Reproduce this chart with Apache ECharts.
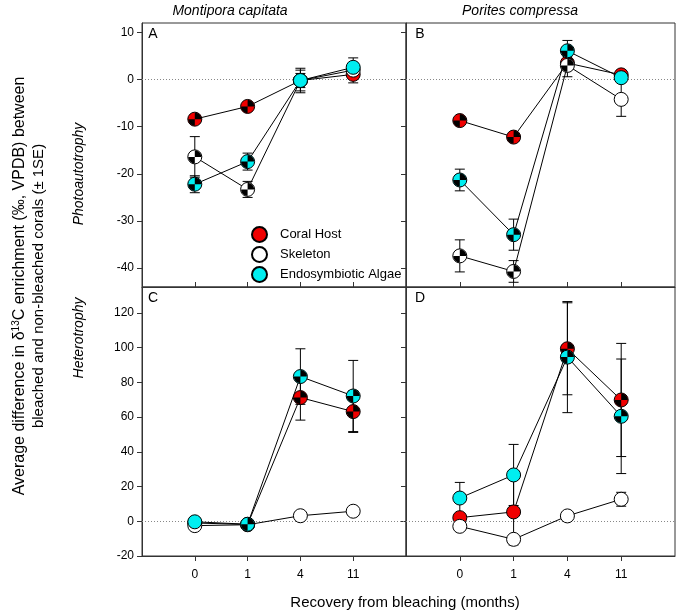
<!DOCTYPE html>
<html>
<head>
<meta charset="utf-8">
<script src="https://cdn.jsdelivr.net/npm/echarts@6/dist/echarts.min.js"></script>
<style>
  html, body { margin: 0; padding: 0; background: #fff; }
  #chart { width: 683px; height: 613px; }
</style>
</head>
<body>
<div id="chart"></div>
<script>
// recovery time points (months), plotted at evenly spaced positions
const months = ['0', '1', '4', '11'];
const topTicks = [-40, -30, -20, -10, 0, 10];
const bottomTicks = [-20, 0, 20, 40, 60, 80, 100, 120];

// A - Montipora capitata, photoautotrophy
const aHost = [-8.4, -5.7, -0.2, 1.1];
const aHostErr = [0.6, 0.5, 1.5, 1.8];
const aSkel = [-16.4, -23.3, -0.2, 2.0];
const aSkelErr = [4.3, 1.7, 2.6, 1.5];
const aAlg = [-22.2, -17.4, -0.2, 2.6];
const aAlgErr = [1.8, 1.8, 2.2, 2.0];

// B - Porites compressa, photoautotrophy
const bHost = [-8.7, -12.2, 3.5, 1.0];
const bHostErr = [0.5, 0.5, 1.5, 1.0];
const bSkel = [-37.4, -40.7, 3.0, -4.2];
const bSkelErr = [3.4, 2.3, 2.4, 3.6];
const bAlg = [-21.3, -32.9, 6.1, 0.4];
const bAlgErr = [2.3, 3.3, 2.2, 1.0];

// C - Montipora capitata, heterotrophy
const cHost = [-1.0, -1.8, 71.3, 63.2];
const cHostErr = [1.0, 0.8, 13.0, 12.0];
const cSkel = [-2.5, -2.0, 3.2, 5.8];
const cSkelErr = [0.8, 0.8, 1.0, 1.0];
const cAlg = [-0.3, -1.7, 83.4, 72.2];
const cAlgErr = [1.0, 0.8, 16.0, 20.5];

// D - Porites compressa, heterotrophy
const dHost = [2.1, 5.4, 99.4, 69.9];
const dHostErr = [2.0, 19.0, 26.5, 32.6];
const dSkel = [-2.9, -10.4, 3.1, 12.7];
const dSkelErr = [1.0, 2.5, 1.0, 4.0];
const dAlg = [13.4, 26.7, 94.6, 60.5];
const dAlgErr = [9.0, 17.6, 32.0, 33.0];

// quartered (black / colour) symbols, 1 = quartered
const aMark = [1, 1, 0, 0];
const bMark = [1, 1, 1, 0];
const cMark = [0, 1, 1, 1];
const dMark = [0, 0, 1, 1];
const noMark = [0, 0, 0, 0];

const FONT = 'Liberation Sans, Arial, sans-serif';
const AXIS = '#333';

const panels = [
  { host: aHost, hostErr: aHostErr, skel: aSkel, skelErr: aSkelErr, alg: aAlg, algErr: aAlgErr,
    hostMark: aMark, skelMark: aMark, algMark: aMark },
  { host: bHost, hostErr: bHostErr, skel: bSkel, skelErr: bSkelErr, alg: bAlg, algErr: bAlgErr,
    hostMark: bMark, skelMark: bMark, algMark: bMark },
  { host: cHost, hostErr: cHostErr, skel: cSkel, skelErr: cSkelErr, alg: cAlg, algErr: cAlgErr,
    hostMark: cMark, skelMark: noMark, algMark: cMark },
  { host: dHost, hostErr: dHostErr, skel: dSkel, skelErr: dSkelErr, alg: dAlg, algErr: dAlgErr,
    hostMark: dMark, skelMark: noMark, algMark: dMark }
];

const groups = [
  { key: 'host', name: 'Coral Host', color: '#f00000' },
  { key: 'skel', name: 'Skeleton', color: '#ffffff' },
  { key: 'alg', name: 'Endosymbiotic Algae', color: '#00eef0' }
];

// two black quarter wedges (top-right and bottom-left)
function wedge(a0, a1) {
  let d = 'M50 50';
  for (let i = 0; i <= 12; i++) {
    const a = a0 + (a1 - a0) * i / 12;
    d += ' L' + (50 + 50 * Math.cos(a)).toFixed(2) + ' ' + (50 + 50 * Math.sin(a)).toFixed(2);
  }
  return d + ' Z';
}
const quarterPath = 'path://' + wedge(-Math.PI / 2, 0) + ' ' + wedge(Math.PI / 2, Math.PI);

function renderErr(params, api) {
  const x = api.value(0);
  const lo = api.coord([x, api.value(1)]);
  const hi = api.coord([x, api.value(2)]);
  const w = 5;
  const style = { stroke: '#000', lineWidth: 1 };
  return {
    type: 'group',
    children: [
      { type: 'line', shape: { x1: lo[0], y1: lo[1], x2: hi[0], y2: hi[1] }, style: style },
      { type: 'line', shape: { x1: lo[0] - w, y1: lo[1], x2: lo[0] + w, y2: lo[1] }, style: style },
      { type: 'line', shape: { x1: hi[0] - w, y1: hi[1], x2: hi[0] + w, y2: hi[1] }, style: style }
    ]
  };
}

const grids = [
  { left: 142, top: 23, width: 264, height: 264 },
  { left: 406, top: 23, width: 269, height: 264 },
  { left: 142, top: 287, width: 264, height: 269 },
  { left: 406, top: 287, width: 269, height: 269 }
].map(g => Object.assign(g, { show: true, borderColor: AXIS, borderWidth: 1, containLabel: false }));

const xAxes = grids.map((g, i) => ({
  type: 'value', gridIndex: i, min: -1, max: 4,
  axisLine: { show: true, onZero: false, lineStyle: { color: AXIS } },
  axisTick: { show: true, inside: i < 2, length: 5, customValues: [0, 1, 2, 3], lineStyle: { color: AXIS } },
  axisLabel: {
    show: i >= 2, customValues: [0, 1, 2, 3], margin: 13,
    formatter: v => months[v], color: '#000', fontSize: 12, fontFamily: FONT
  },
  splitLine: { show: false }
}));

const yAxes = grids.map((g, i) => {
  const top = i < 2;
  const ticks = top ? topTicks : bottomTicks;
  return {
    type: 'value', gridIndex: i,
    min: top ? -44 : -20, max: top ? 12 : 135,
    axisLine: { show: true, onZero: false, lineStyle: { color: AXIS } },
    axisTick: { show: true, length: 5, customValues: ticks, lineStyle: { color: AXIS } },
    axisLabel: { show: i % 2 === 0, customValues: ticks, margin: 8, color: '#000', fontSize: 12, fontFamily: FONT },
    splitLine: { show: false }
  };
});

const series = [];
panels.forEach((p, i) => {
  groups.forEach((g, k) => {
    const vals = p[g.key];
    const errs = p[g.key + 'Err'];
    const marks = p[g.key + 'Mark'];
    const line = {
      type: 'line', xAxisIndex: i, yAxisIndex: i, z: 2, silent: true,
      symbol: 'none', data: vals.map((v, j) => [j, v]),
      lineStyle: { color: '#000', width: 1 }
    };
    if (k === 0) {
      line.markLine = {
        silent: true, symbol: ['none', 'none'], label: { show: false },
        lineStyle: { type: [1, 2], color: '#888', width: 1 },
        data: [{ yAxis: 0 }], z: 1
      };
    }
    series.push(line);
    series.push({
      type: 'custom', xAxisIndex: i, yAxisIndex: i, z: 3, silent: true,
      renderItem: renderErr, encode: { x: 0, y: [1, 2] },
      data: vals.map((v, j) => [j, v - errs[j], v + errs[j]])
    });
    series.push({
      type: 'scatter', name: g.name, xAxisIndex: i, yAxisIndex: i, z: 10 + 2 * k,
      symbol: 'circle', symbolSize: 14,
      itemStyle: { color: g.color, borderColor: '#000', borderWidth: 1, opacity: 1 },
      data: vals.map((v, j) => [j, v])
    });
    series.push({
      type: 'scatter', xAxisIndex: i, yAxisIndex: i, z: 11 + 2 * k, silent: true,
      symbol: quarterPath, symbolSize: 13,
      itemStyle: { color: '#000', opacity: 1 },
      data: vals.map((v, j) => [j, v]).filter((d, j) => marks[j])
    });
  });
});

function label(text, x, y, opts) {
  return Object.assign({
    type: 'text', x: x, y: y,
    style: Object.assign({
      text: text, fill: '#000', font: '14px ' + FONT, align: 'center', verticalAlign: 'middle'
    }, opts && opts.style)
  }, opts && opts.el);
}

const graphic = [
  label('Montipora capitata', 230, 11, { style: { font: 'italic 14px ' + FONT } }),
  label('Porites compressa', 520, 11, { style: { font: 'italic 14px ' + FONT } }),
  label('A', 153, 34), label('B', 420, 34), label('C', 153, 298), label('D', 420, 298),
  label('Photoautotrophy', 79, 174, { style: { font: 'italic 14px ' + FONT }, el: { rotation: Math.PI / 2 } }),
  label('Heterotrophy', 79, 338, { style: { font: 'italic 14px ' + FONT }, el: { rotation: Math.PI / 2 } }),
  label('Average difference in δ{sup|13}C enrichment (‰, VPDB) between', 20, 286, {
    style: { font: '16px ' + FONT, rich: { sup: { fontSize: 10, fontFamily: FONT, padding: [0, 0, 7, 0] } } },
    el: { rotation: Math.PI / 2 }
  }),
  label('bleached and non-bleached corals (± 1SE)', 39, 286, {
    style: { font: '15px ' + FONT }, el: { rotation: Math.PI / 2 }
  }),
  label('Recovery from bleaching (months)', 405, 603, { style: { font: '15px ' + FONT } })
];

const chart = echarts.init(document.getElementById('chart'), null, { renderer: 'canvas' });
chart.setOption({
  animation: false,
  backgroundColor: '#fff',
  grid: grids,
  xAxis: xAxes,
  yAxis: yAxes,
  legend: {
    data: groups.map(g => g.name),
    orient: 'vertical', left: 246, top: 221,
    icon: 'circle', itemWidth: 15, itemHeight: 15, itemGap: 3,
    selectedMode: false,
    textStyle: { fontSize: 13, fontFamily: FONT, color: '#000', padding: [0, 0, 0, 8] }
  },
  graphic: graphic,
  series: series
});
</script>
</body>
</html>
